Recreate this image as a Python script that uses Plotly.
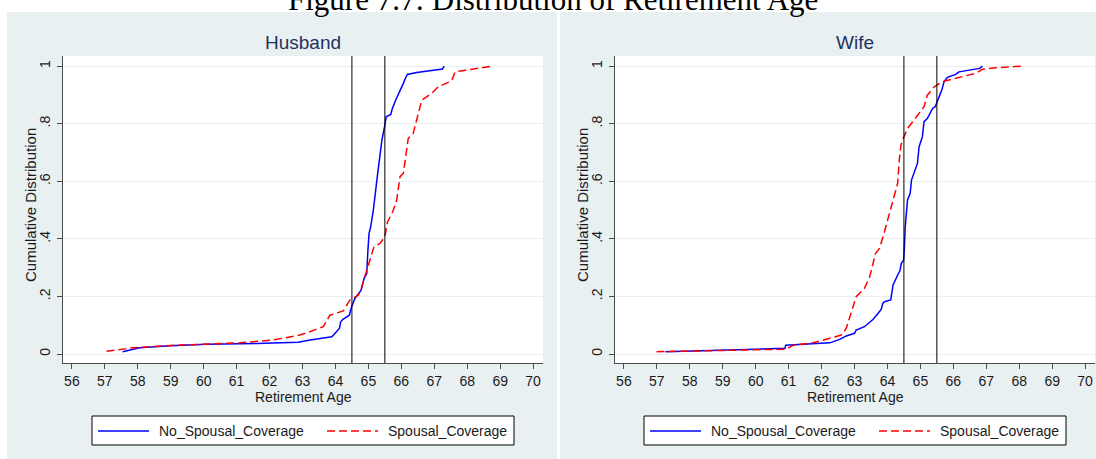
import plotly.graph_objects as go

# ---- data: empirical cumulative distribution of retirement age ----
series_names = ["No_Spousal_Coverage", "Spousal_Coverage"]
panel_titles = ["Husband", "Wife"]
age_ticks = list(range(56, 71))
cdf_ticks = [0, 0.2, 0.4, 0.6, 0.8, 1.0]
cdf_tick_text = ["0", ".2", ".4", ".6", ".8", "1"]
ref_ages = [64.5, 65.5]

husband_no_age = [57.54, 58.06, 58.98, 60.09, 61.61, 62.87, 63.23, 63.89, 63.94, 64.12,
                  64.16, 64.22, 64.42, 64.49, 64.59, 64.78, 64.87, 64.95, 64.98, 65.02,
                  65.07, 65.15, 65.27, 65.35, 65.41, 65.49, 65.54, 65.68, 65.72, 65.83,
                  65.95, 66.02, 66.06, 66.12, 66.18, 66.47, 67.25, 67.30]
husband_no_cdf = [0.008, 0.022, 0.029, 0.034, 0.037, 0.041, 0.049, 0.060, 0.066, 0.089,
                  0.112, 0.120, 0.135, 0.164, 0.193, 0.222, 0.263, 0.280, 0.350, 0.419,
                  0.442, 0.500, 0.616, 0.691, 0.743, 0.789, 0.824, 0.832, 0.850, 0.882,
                  0.911, 0.925, 0.940, 0.957, 0.971, 0.978, 0.990, 1.000]

husband_sp_age = [57.05, 57.86, 58.98, 60.09, 61.10, 62.11, 62.52, 62.92, 63.13, 63.63,
                  63.83, 64.24, 64.44, 64.70, 64.80, 64.95, 65.17, 65.35, 65.50, 65.58,
                  65.74, 65.86, 65.96, 66.06, 66.21, 66.36, 66.47, 66.62, 66.92, 67.12,
                  67.53, 67.63, 68.79]
husband_sp_cdf = [0.010, 0.022, 0.030, 0.035, 0.039, 0.049, 0.057, 0.066, 0.074, 0.095,
                  0.135, 0.150, 0.188, 0.205, 0.234, 0.292, 0.373, 0.384, 0.407, 0.459,
                  0.494, 0.535, 0.616, 0.627, 0.749, 0.766, 0.812, 0.882, 0.905, 0.928,
                  0.949, 0.980, 1.000]

wife_no_age = [57.26, 60.89, 60.91, 62.25, 62.55, 62.75, 63.00, 63.05, 63.30, 63.56,
               63.71, 63.81, 63.86, 63.91, 64.10, 64.14, 64.17, 64.30, 64.38, 64.42,
               64.49, 64.51, 64.54, 64.61, 64.69, 64.73, 64.84, 64.91, 64.96, 65.06,
               65.11, 65.21, 65.37, 65.45, 65.57, 65.65, 65.72, 65.82, 66.07, 66.17,
               66.80, 66.88]
wife_no_cdf = [0.008, 0.020, 0.031, 0.039, 0.051, 0.063, 0.072, 0.083, 0.095, 0.120,
               0.141, 0.155, 0.176, 0.182, 0.188, 0.215, 0.240, 0.272, 0.290, 0.315,
               0.326, 0.360, 0.442, 0.535, 0.558, 0.604, 0.639, 0.662, 0.720, 0.755,
               0.807, 0.818, 0.853, 0.859, 0.894, 0.917, 0.946, 0.961, 0.971, 0.980,
               0.992, 1.000]

wife_sp_age = [56.99, 60.94, 61.14, 61.74, 62.35, 62.60, 62.75, 62.90, 63.05, 63.30,
               63.46, 63.64, 63.76, 63.91, 64.06, 64.21, 64.31, 64.36, 64.41, 64.48,
               64.61, 64.81, 64.96, 65.11, 65.21, 65.42, 65.67, 65.97, 66.68, 66.88,
               67.28, 68.09]
wife_sp_cdf = [0.008, 0.017, 0.031, 0.039, 0.058, 0.066, 0.089, 0.141, 0.199, 0.228,
               0.268, 0.350, 0.367, 0.425, 0.488, 0.552, 0.593, 0.674, 0.726, 0.749,
               0.784, 0.813, 0.836, 0.859, 0.899, 0.928, 0.946, 0.954, 0.975, 0.989,
               0.994, 1.000]

# ---- page geometry (pixels) ----
W, H = 1096, 459
PANEL_BG = "#e9f0f2"
GRID = "#e8eff1"
AXIS = "#4d4d4d"
TITLE_BLUE = "#1f325e"
SANS = "Liberation Sans, Arial, sans-serif"
SERIF = "Liberation Serif, Times New Roman, serif"
BLUE = "#0000ff"
RED = "#ff0000"
RED_DASH = "8px,4px"


def fx(p):
    return p / W


def fy(p):
    return 1 - p / H


panel_shift = 552           # horizontal offset of the second panel
plot_left, plot_right = 63, 543
plot_top, plot_bottom = 56, 363

fig = go.Figure()

panels = [
    (husband_no_age, husband_no_cdf, husband_sp_age, husband_sp_cdf),
    (wife_no_age, wife_no_cdf, wife_sp_age, wife_sp_cdf),
]
for i, (no_x, no_y, sp_x, sp_y) in enumerate(panels):
    xa = "x" if i == 0 else "x2"
    ya = "y" if i == 0 else "y2"
    fig.add_trace(go.Scatter(x=no_x, y=no_y, mode="lines", name=series_names[0],
                             line=dict(color=BLUE, width=1.5), xaxis=xa, yaxis=ya,
                             showlegend=False))
    fig.add_trace(go.Scatter(x=sp_x, y=sp_y, mode="lines", name=series_names[1],
                             line=dict(color=RED, width=1.5, dash=RED_DASH),
                             xaxis=xa, yaxis=ya, showlegend=False))

shapes = []
annotations = []

# white margins around the two grey panels
for x0, x1, y0, y1 in [(0, 7, 0, H), (0, W, 0, 12), (557, 560, 0, H)]:
    shapes.append(dict(type="rect", xref="paper", yref="paper",
                       x0=fx(x0), x1=fx(x1), y0=fy(y1), y1=fy(y0),
                       fillcolor="white", line=dict(width=0), layer="below"))

axis_common = dict(
    showline=True, linecolor=AXIS, linewidth=1, mirror=False,
    ticks="outside", ticklen=5, tickcolor=AXIS, tickwidth=1,
    tickfont=dict(family=SANS, size=14, color="#1a1a1a"),
    zeroline=False,
)

layout_axes = {}
for i in range(2):
    off = panel_shift * i
    sx = "" if i == 0 else "2"
    layout_axes["xaxis" + sx] = dict(
        axis_common,
        domain=[fx(plot_left + off), fx(plot_right + off)],
        range=[55.73, 70.3], tickvals=age_ticks, showgrid=False,
        anchor="y" + sx,
    )
    layout_axes["yaxis" + sx] = dict(
        axis_common,
        domain=[fy(plot_bottom), fy(plot_top)],
        range=[-0.031, 1.035], tickvals=cdf_ticks, ticktext=cdf_tick_text,
        tickangle=-90, showgrid=True, gridcolor=GRID, gridwidth=1,
        anchor="x" + sx, ticklabelstandoff=1,
    )

    # vertical reference lines at ages 64.5 and 65.5
    for a in ref_ages:
        shapes.append(dict(type="line", xref="x" + sx, yref="y" + sx + " domain",
                           x0=a, x1=a, y0=0, y1=1,
                           line=dict(color="black", width=1)))

    cx = (plot_left + plot_right) / 2 + off
    annotations.append(dict(text=panel_titles[i], xref="paper", yref="paper",
                            x=fx(cx), y=fy(42), xanchor="center", yanchor="middle",
                            showarrow=False,
                            font=dict(family=SANS, size=19, color=TITLE_BLUE)))
    annotations.append(dict(text="Retirement Age", xref="paper", yref="paper",
                            x=fx(cx), y=fy(397), xanchor="center", yanchor="middle",
                            showarrow=False,
                            font=dict(family=SANS, size=14, color="#1a1a1a")))
    annotations.append(dict(text="Cumulative Distribution", xref="paper", yref="paper",
                            x=fx(30 + off), y=fy(205), xanchor="center", yanchor="middle",
                            textangle=-90, showarrow=False,
                            font=dict(family=SANS, size=15, color="#1a1a1a")))

    # legend box for the panel
    shapes.append(dict(type="rect", xref="paper", yref="paper",
                       x0=fx(92 + off), x1=fx(514 + off), y0=fy(445), y1=fy(416),
                       fillcolor="white", line=dict(color="black", width=1)))
    ly = 431
    shapes.append(dict(type="line", xref="paper", yref="paper",
                       x0=fx(98 + off), x1=fx(149 + off), y0=fy(ly), y1=fy(ly),
                       line=dict(color=BLUE, width=1.5)))
    shapes.append(dict(type="line", xref="paper", yref="paper",
                       x0=fx(327 + off), x1=fx(378 + off), y0=fy(ly), y1=fy(ly),
                       line=dict(color=RED, width=1.5, dash=RED_DASH)))
    annotations.append(dict(text=series_names[0], xref="paper", yref="paper",
                            x=fx(157 + off), y=fy(ly), xanchor="left", yanchor="middle",
                            showarrow=False,
                            font=dict(family=SANS, size=14, color="#1a1a1a")))
    annotations.append(dict(text=series_names[1], xref="paper", yref="paper",
                            x=fx(386 + off), y=fy(ly), xanchor="left", yanchor="middle",
                            showarrow=False,
                            font=dict(family=SANS, size=14, color="#1a1a1a")))

# overall figure heading, partly above the top edge of the page
annotations.append(dict(text="Figure 7.7: Distribution of Retirement Age",
                        xref="paper", yref="paper", x=fx(553), y=fy(-0.5),
                        xanchor="center", yanchor="middle", showarrow=False,
                        font=dict(family=SERIF, size=31, color="black")))

fig.update_layout(
    width=W, height=H,
    margin=dict(l=0, r=0, t=0, b=0),
    paper_bgcolor=PANEL_BG, plot_bgcolor="white",
    showlegend=False,
    shapes=shapes, annotations=annotations,
    **layout_axes,
)

fig.write_html("out.html")
